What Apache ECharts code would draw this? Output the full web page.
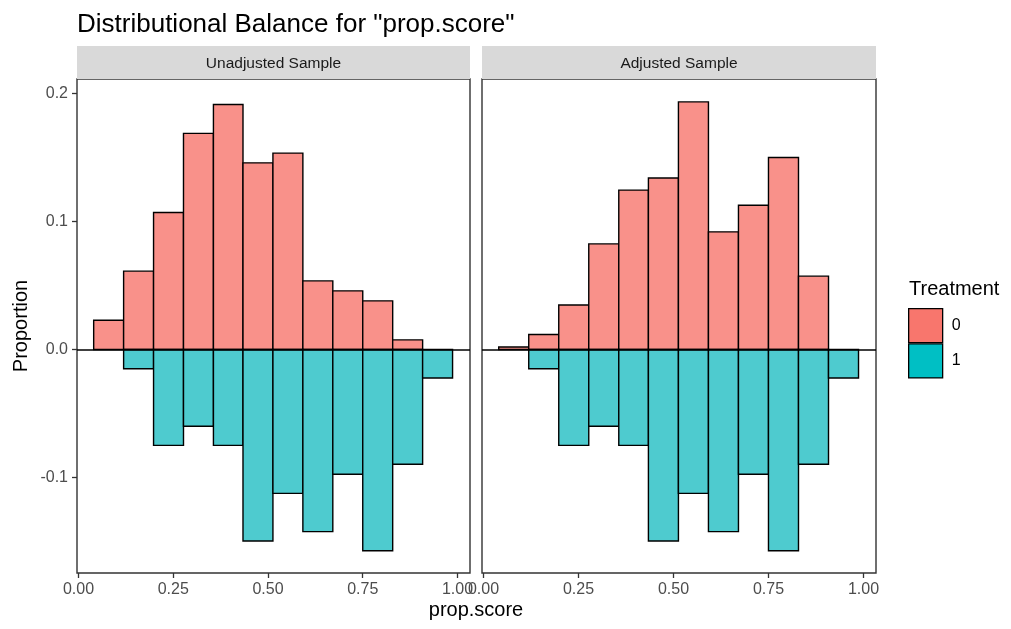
<!DOCTYPE html>
<html>
<head>
<meta charset="utf-8">
<script src="https://cdn.jsdelivr.net/npm/echarts@6/dist/echarts.min.js"></script>
<style>
  html, body { margin: 0; padding: 0; background: #fff; }
  #chart { width: 1011px; height: 629px; }
</style>
</head>
<body>
<div id="chart"></div>
<script>
// Histogram bin edges on the propensity-score scale
const binEdges = [0.040, 0.119, 0.198, 0.277, 0.356, 0.434, 0.513, 0.592, 0.671, 0.750, 0.829, 0.908, 0.987];

// Proportion of the control group (Treatment = 0) in each bin
const controlUnadjusted = [0.0229, 0.0612, 0.1070, 0.1688, 0.1914, 0.1458, 0.1534, 0.0536, 0.0458, 0.0380, 0.0075, 0];
const controlAdjusted   = [0.0020, 0.0117, 0.0348, 0.0825, 0.1245, 0.1340, 0.1934, 0.0919, 0.1127, 0.1500, 0.0573, 0];

// Proportion of the treated group (Treatment = 1) in each bin, drawn below zero
const treated = [0, 0.0150, 0.0749, 0.0600, 0.0749, 0.1496, 0.1124, 0.1423, 0.0975, 0.1572, 0.0897, 0.0223];

const panelTitles = ['Unadjusted Sample', 'Adjusted Sample'];
const legendTitle = 'Treatment';
const groupNames = ['0', '1'];
const xTicks = [0, 0.25, 0.5, 0.75, 1];
const yTicks = [-0.1, 0, 0.1, 0.2];

const FONT = '"Liberation Sans", Arial, Helvetica, sans-serif';
const RED = '#F8766D', TEAL = '#00BFC4';
const RED_FILL = '#F9918A', TEAL_FILL = '#4ECBCF';

function binData(values, sign) {
  return values.map((v, i) => [binEdges[i], binEdges[i + 1], sign * v]);
}

function renderBin(fill) {
  return function (params, api) {
    if (api.value(2) === 0) return null;
    const p0 = api.coord([api.value(0), 0]);
    const p1 = api.coord([api.value(1), api.value(2)]);
    return {
      type: 'rect',
      shape: {
        x: p0[0], y: Math.min(p0[1], p1[1]),
        width: p1[0] - p0[0], height: Math.abs(p1[1] - p0[1])
      },
      style: { fill: fill, stroke: '#000', lineWidth: 1.4 }
    };
  };
}

const panels = [
  { left: 77, width: 393 },
  { left: 482, width: 394 }
];
const gridTop = 79, gridHeight = 494;

const grids = panels.map(p => ({
  left: p.left, top: gridTop, width: p.width, height: gridHeight,
  show: true, borderColor: '#333', borderWidth: 1.4, backgroundColor: '#fff'
}));

const xAxes = panels.map((p, i) => ({
  type: 'value', gridIndex: i, min: -0.004, max: 1.033,
  axisLine: { show: false, onZero: false },
  splitLine: { show: false },
  axisTick: { show: true, customValues: xTicks, length: 5, lineStyle: { color: '#333', width: 1.3 } },
  axisLabel: {
    customValues: xTicks, margin: 9, color: '#4D4D4D', fontFamily: FONT, fontSize: 16,
    formatter: v => v.toFixed(2)
  }
}));

const yAxes = panels.map((p, i) => ({
  type: 'value', gridIndex: i, min: -0.1746, max: 0.2113,
  axisLine: { show: false, onZero: false },
  splitLine: { show: false },
  axisTick: { show: i === 0, customValues: yTicks, length: 5, lineStyle: { color: '#333', width: 1.3 } },
  axisLabel: {
    show: i === 0, customValues: yTicks, margin: 9, color: '#4D4D4D', fontFamily: FONT, fontSize: 16,
    formatter: v => v.toFixed(1)
  }
}));

const controlSets = [controlUnadjusted, controlAdjusted];
const series = [];
panels.forEach((p, i) => {
  series.push({
    name: groupNames[0], type: 'custom', xAxisIndex: i, yAxisIndex: i,
    itemStyle: { color: RED },
    encode: { x: [0, 1], y: 2 },
    renderItem: renderBin(RED_FILL),
    data: binData(controlSets[i], 1),
    z: 2
  });
  series.push({
    name: groupNames[1], type: 'custom', xAxisIndex: i, yAxisIndex: i,
    itemStyle: { color: TEAL },
    encode: { x: [0, 1], y: 2 },
    renderItem: renderBin(TEAL_FILL),
    data: binData(treated, -1),
    z: 2,
    markLine: {
      silent: true, symbol: 'none', animation: false,
      label: { show: false },
      lineStyle: { color: '#000', width: 1.5, type: 'solid' },
      data: [{ yAxis: 0 }]
    }
  });
});

const graphics = [];
panels.forEach((p, i) => {
  graphics.push({
    type: 'rect', left: p.left, top: 46, silent: true,
    shape: { width: p.width, height: 33 },
    style: { fill: '#D9D9D9' }
  });
  graphics.push({
    type: 'text', x: p.left + p.width / 2, y: 64, silent: true,
    style: {
      text: panelTitles[i], fill: '#1A1A1A', font: '15.5px ' + FONT,
      textAlign: 'center', textVerticalAlign: 'middle'
    }
  });
});
graphics.push({
  type: 'text', x: 909, y: 289, silent: true,
  style: { text: legendTitle, fill: '#000', font: '20px ' + FONT, textAlign: 'left', textVerticalAlign: 'middle' }
});
// axis titles shared by both panels
graphics.push({
  type: 'text', x: 476, y: 610, silent: true,
  style: { text: 'prop.score', fill: '#000', font: '20px ' + FONT, textAlign: 'center', textVerticalAlign: 'middle' }
});
graphics.push({
  type: 'text', x: 21, y: 326, rotation: Math.PI / 2, silent: true,
  style: { text: 'Proportion', fill: '#000', font: '20px ' + FONT, textAlign: 'center', textVerticalAlign: 'middle' }
});

const chart = echarts.init(document.getElementById('chart'), null, { renderer: 'canvas' });
chart.setOption({
  animation: false,
  backgroundColor: '#fff',
  title: {
    text: 'Distributional Balance for "prop.score"',
    left: 72, top: 7,
    textStyle: { fontFamily: FONT, fontSize: 26, fontWeight: 'normal', color: '#000' }
  },
  legend: {
    orient: 'vertical', left: 908, top: 308, padding: 0,
    itemWidth: 34, itemHeight: 34, itemGap: 0, icon: 'rect',
    selectedMode: false,
    textStyle: { fontFamily: FONT, fontSize: 16, color: '#000', padding: [0, 0, 0, 4] },
    data: [
      { name: groupNames[0], itemStyle: { color: RED, borderColor: '#000', borderWidth: 1.3 } },
      { name: groupNames[1], itemStyle: { color: TEAL, borderColor: '#000', borderWidth: 1.3 } }
    ]
  },
  grid: grids,
  xAxis: xAxes,
  yAxis: yAxes,
  series: series,
  graphic: graphics
});
</script>
</body>
</html>
